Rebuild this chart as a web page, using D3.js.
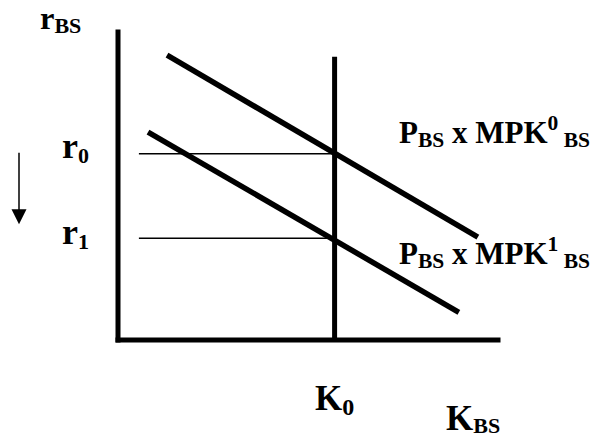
<!DOCTYPE html>
<html>
<head>
<meta charset="utf-8">
<script src="https://cdn.jsdelivr.net/npm/d3@7"></script>
<style>
  html, body { margin: 0; padding: 0; background: #fff; }
  svg text { font-family: "Liberation Serif", "Times New Roman", serif; font-weight: bold; fill: #000; }
</style>
</head>
<body>
<svg id="chart" width="596" height="440"></svg>
<script>
// Conceptual diagram data (arbitrary units 0-100)
const rateLevels = [60.5, 33];             // r0, r1
const rateNames = ["0", "1"];
const capitalLevel = 57;                    // K0
const curveNames = ["0", "1"];              // MPK^0, MPK^1
const curveStartX = [12.9, 7.9];
const curveStartY = [92.5, 67.5];
const curveEndX = [94.7, 89.7];
const curveEndY = [33.4, 9];
const axisMax = 100;
const capitalTop = 92;
const rateLineStart = 5.5;

const svg = d3.select("#chart");
const x = d3.scaleLinear().domain([0, axisMax]).range([118, 498]);
const y = d3.scaleLinear().domain([0, axisMax]).range([340, 32]);

// thin horizontal rate lines
svg.selectAll("line.rate").data(rateLevels).enter().append("line")
  .attr("class", "rate")
  .attr("x1", x(rateLineStart)).attr("x2", x(capitalLevel))
  .attr("y1", d => y(d)).attr("y2", d => y(d))
  .attr("stroke", "#000").attr("stroke-width", 1.5);

// axes
svg.append("line").attr("x1", x(0)).attr("x2", x(0)).attr("y1", y(axisMax)).attr("y2", y(0))
  .attr("stroke", "#000").attr("stroke-width", 5).attr("stroke-linecap", "square");
svg.append("line").attr("x1", x(0)).attr("x2", x(axisMax)).attr("y1", y(0)).attr("y2", y(0))
  .attr("stroke", "#000").attr("stroke-width", 5).attr("stroke-linecap", "square");

// K0 vertical
svg.append("line").attr("x1", x(capitalLevel)).attr("x2", x(capitalLevel))
  .attr("y1", y(capitalTop)).attr("y2", y(0))
  .attr("stroke", "#000").attr("stroke-width", 5);

// MPK curves
curveNames.forEach((n, i) => {
  svg.append("line")
    .attr("x1", x(curveStartX[i])).attr("y1", y(curveStartY[i]))
    .attr("x2", x(curveEndX[i])).attr("y2", y(curveEndY[i]))
    .attr("stroke", "#000").attr("stroke-width", 5.5);
});

// text helpers
function label(xp, yp, main, sub, mainSize, subSize, subDy) {
  const t = svg.append("text").attr("x", xp).attr("y", yp).style("font-size", mainSize + "px");
  t.append("tspan").text(main);
  if (sub) t.append("tspan").attr("dy", subDy).style("font-size", subSize + "px").text(sub);
  return t;
}

// axis labels
label(40, 29, "r", "BS", 32.5, 22, 4);
rateLevels.forEach((d, i) => label(62, y(d) + 4 + i * 2, "r", rateNames[i], 36, 22, 5));
label(315, 410, "K", "0", 35, 24, 5);
label(446, 430, "K", "BS", 35, 22, 3);

// curve labels
curveNames.forEach((n, i) => {
  const yb = [143, 264][i];
  const t = svg.append("text").attr("x", 399).attr("y", yb).style("font-size", "31px");
  t.append("tspan").text("P");
  t.append("tspan").attr("dy", 4).style("font-size", "21.5px").text("BS");
  t.append("tspan").attr("dy", -4).text(" x MPK");
  t.append("tspan").attr("dy", -13).style("font-size", "21.5px").text(n);
  t.append("tspan").attr("dy", 17).style("font-size", "21.5px").text(" BS");
});

// downward arrow
const ax = 19;
svg.append("line").attr("x1", ax).attr("x2", ax).attr("y1", y(rateLevels[0]) - 1).attr("y2", y(rateLevels[1]) - 26)
  .attr("stroke", "#000").attr("stroke-width", 1.5);
svg.append("path")
  .attr("d", `M${ax - 7.5},${y(rateLevels[1]) - 29} L${ax + 7.5},${y(rateLevels[1]) - 29} L${ax},${y(rateLevels[1]) - 14} Z`)
  .attr("fill", "#000");
</script>
</body>
</html>
